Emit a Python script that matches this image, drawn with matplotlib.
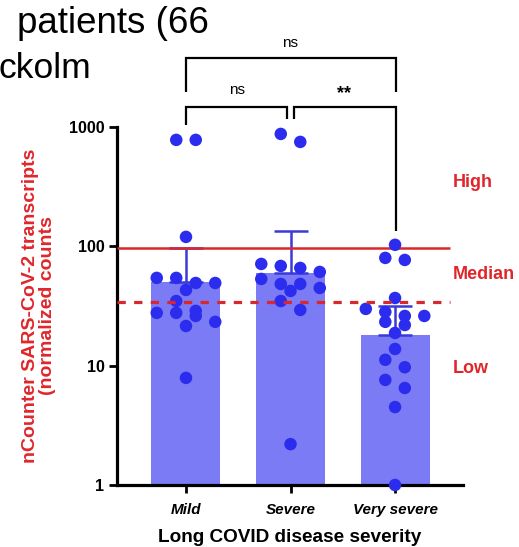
import numpy as np
import matplotlib
matplotlib.use('Agg')
import matplotlib.pyplot as plt

# ---------------- data ----------------
categories = ['Mild', 'Severe', 'Very severe']
bar_heights = [50, 60, 18]
error_upper = [97, 134, 31.6]
mild_values = [780, 780, 120, 54.4, 54.4, 49.3, 49.3, 43.1, 34.8, 28.8,
               27.7, 27.7, 26.1, 23.3, 21.5, 7.9]
severe_values = [875, 750, 71.2, 68.5, 65.9, 61, 53.3, 48.4, 48.4, 44.8,
                 42.3, 34.8, 29.3, 2.2]
very_severe_values = [103, 80, 76.9, 36.9, 29.9, 28.2, 26.1, 26.1, 23.3,
                      21.9, 18.8, 13.8, 11.2, 9.7, 7.6, 6.5, 4.5, 1.0]
high_threshold = 97
median_threshold = 34
y_ticks = [1, 10, 100, 1000]
y_tick_labels = ['1', '10', '100', '1000']
comparisons = [(0, 2, 'ns'), (0, 1, 'ns'), (1, 2, '**')]
zone_labels = ['High', 'Median', 'Low']
title_fragments = ['patients (66', 'ckolm']
y_label = 'nCounter SARS-CoV-2 transcripts\n(normalized counts'
x_label = 'Long COVID disease severity'

# ---------------- style ----------------
W, H = 519, 547
BAR_C = '#7b7bf6'
DOT_C = '#2c2cef'
ERR_C = '#3a3ad8'
RED = '#e0262b'
LINE_RED = '#d8282c'
SANS = ['Liberation Sans', 'DejaVu Sans']
NARROW = ['Liberation Sans Narrow', 'Liberation Sans', 'DejaVu Sans']
plt.rcParams['font.family'] = SANS

fig = plt.figure(figsize=(W / 100, H / 100), dpi=100)
ax = fig.add_axes([117 / W, 1 - 485 / H, (463 - 117) / W, (485 - 127) / H])
ax.set_yscale('log')
ax.set_ylim(1, 1000)
ax.set_xlim(-0.66, 2.65)

x = np.arange(len(categories))
ax.bar(x, bar_heights, width=0.66, color=BAR_C, zorder=1)
ax.errorbar(x, bar_heights,
            yerr=[np.zeros(len(x)), np.array(error_upper) - np.array(bar_heights)],
            fmt='none', ecolor=ERR_C, elinewidth=1.8, capsize=12, capthick=1.8,
            zorder=2)


def swarm_offsets(yimg, d=11.0, s=19.5, h=10.0):
    """Row-centred dot layout in pixel units (yimg grows downward)."""
    order = np.argsort(yimg, kind='stable')
    rows, cur = [], []
    for i in order:
        if cur and yimg[i] - yimg[cur[0]] >= h:
            rows.append(cur)
            cur = []
        cur.append(i)
    if cur:
        rows.append(cur)
    off = np.zeros(len(yimg))
    placed = []
    for row in rows:
        n = len(row)
        xs_row = (np.arange(n) - (n - 1) / 2) * s
        if n == 1:
            i = row[0]
            for cand in (0, 0.5 * s, -0.5 * s, s, -s):
                if all(np.hypot(cand - px, yimg[i] - py) >= d for px, py in placed):
                    xs_row = [cand]
                    break
        for xx, i in zip(xs_row, row):
            off[i] = xx
            placed.append((xx, yimg[i]))
    return off


px_per_unit = ax.transData.transform((1, 1))[0] - ax.transData.transform((0, 1))[0]
for xi, vals in zip(x, [mild_values, severe_values, very_severe_values]):
    vals = np.array(vals, dtype=float)
    ydisp = ax.transData.transform(np.column_stack([np.full(len(vals), xi), vals]))[:, 1]
    offs = swarm_offsets(-ydisp) / px_per_unit
    ax.scatter(xi + offs, vals, s=9.0 ** 2, color=DOT_C, edgecolors='none',
               zorder=4, clip_on=False)

# threshold lines
ax.hlines(high_threshold, -0.66, 2.53, color=LINE_RED, lw=1.8, zorder=3)
ax.hlines(median_threshold, -0.66, 2.53, color=LINE_RED, lw=2.3,
          linestyles=(0, (2.6, 2.6)), zorder=5)

# axes styling
for sp in ['top', 'right']:
    ax.spines[sp].set_visible(False)
for sp in ['left', 'bottom']:
    ax.spines[sp].set_linewidth(2.3)
ax.set_yticks(y_ticks)
ax.set_yticklabels(y_tick_labels, fontsize=11.5, fontweight='bold')
ax.yaxis.set_minor_locator(matplotlib.ticker.NullLocator())
ax.set_xticks(x)
ax.set_xticklabels(categories, fontsize=11, fontweight='bold', fontstyle='italic')
ax.tick_params(axis='both', width=2.0, length=6)
ax.tick_params(axis='y', pad=3)
ax.tick_params(axis='x', pad=7)

# significance brackets (x in data, y in axes fraction)
tr = ax.get_xaxis_transform()
bk = dict(color='black', lw=1.6, clip_on=False, solid_capstyle='butt',
          solid_joinstyle='miter')
ax.plot([0, 0, 2.01, 2.01], [1.098, 1.193, 1.193, 1.098], transform=tr, **bk)
ax.text(1.0, 1.235, comparisons[0][2], transform=tr, ha='center', va='center',
        fontsize=11, family=NARROW)
ax.plot([0, 0, 0.967, 0.967], [1.006, 1.056, 1.056, 1.022], transform=tr, **bk)
ax.text(0.49, 1.103, comparisons[1][2], transform=tr, ha='center', va='center',
        fontsize=11, family=NARROW)
ax.plot([1.033, 1.033, 2.01, 2.01], [1.022, 1.056, 1.056, 0.7095], transform=tr, **bk)
ax.text(1.51, 1.092, comparisons[2][2], transform=tr, ha='center', va='center',
        fontsize=13, fontweight='bold')

# zone labels
for lab, yf in zip(zone_labels, [0.8436, 0.5866, 0.3268]):
    ax.text(2.555, yf, lab, transform=tr, ha='left', va='center', fontsize=13,
            fontweight='bold', color=RED, clip_on=False)

# axis labels
fig.text(39 / W, 1 - 306 / H, y_label, rotation=90, ha='center', va='center',
         multialignment='center', fontsize=14, fontweight='bold', color=RED,
         linespacing=1.05)
fig.text(290 / W, 1 - 538 / H, x_label, ha='center', va='center', fontsize=13.7,
         fontweight='bold')

# cut-off slide title fragments
fig.text(17 / W, 1 - 33 / H, title_fragments[0], ha='left', va='baseline',
         fontsize=26.5)
fig.text(-1 / W, 1 - 78 / H, title_fragments[1], ha='left', va='baseline',
         fontsize=25.5)

fig.savefig('out.png', dpi=100)
